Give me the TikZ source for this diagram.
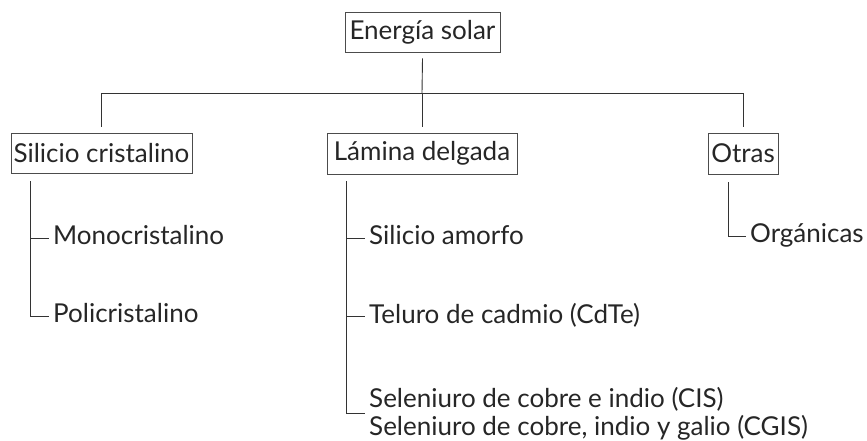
\documentclass[tikz,border=0pt]{standalone}
\usepackage{fontspec}
\setmainfont{Lato}
\begin{document}
\begin{tikzpicture}[x=1pt,y=-1pt,
  conn/.style={draw=black!80,line width=0.9pt},
  catbox/.style={draw=black!70,line width=0.8pt,inner sep=0pt,font=\fontsize{26}{30}\selectfont,text=black!85},
  leaf/.style={inner sep=0pt,anchor=base west,font=\fontsize{26}{30}\selectfont,text=black!85}]
\useasboundingbox (0,0) rectangle (867,441);
% boxes
\node[catbox,minimum width=155pt,minimum height=40pt] (root) at (422.5,32) {Energía solar};
\node[catbox,minimum width=181pt,minimum height=40pt] (sil) at (101.5,153) {Silicio cristalino};
\node[catbox,minimum width=190pt,minimum height=41pt] (lam) at (422,153.5) {Lámina delgada};
\node[catbox,minimum width=70pt,minimum height=41pt] (oth) at (743,153.5) {Otras};
% leaves
\node[leaf] (mono) at (53,244) {Monocristalino};
\node[leaf] (poli) at (53,322) {Policristalino};
\node[leaf] (amor) at (369,244) {Silicio amorfo};
\node[leaf] (telu) at (369,323) {Teluro de cadmio (CdTe)};
\node[leaf] (sel1) at (369,407) {Seleniuro de cobre e indio (CIS)};
\node[leaf] (sel2) at (369,435) {Seleniuro de cobre, indio y galio (CGIS)};
\node[leaf] (org) at (750,242) {Orgánicas};
% hub
\coordinate (hub) at (422,93);
\coordinate (s0) at (30,181);
\coordinate (l0) at (346,181);
\coordinate (o0) at (728,182);
% connectors
\draw[conn] ([yshift=-6pt]root.south) -- (hub);
\draw[conn] ([yshift=6pt]sil.north) -- (sil.north |- hub) -- (oth.north |- hub) -- ([yshift=6pt]oth.north);
\draw[conn] (hub) -- ([yshift=6pt]lam.north);
\draw[conn] (s0) |- ([xshift=-4pt,yshift=6pt]poli.base west);
\draw[conn] (s0 |- mono.base west) ++(0,-6) -- ([xshift=-4pt,yshift=6pt]mono.base west);
\draw[conn] (l0) |- ([xshift=-4pt,yshift=-6pt]sel1.base west);
\draw[conn] (l0 |- amor.base west) ++(0,-6) -- ([xshift=-4pt,yshift=6pt]amor.base west);
\draw[conn] (l0 |- telu.base west) ++(0,-7) -- ([xshift=-4pt,yshift=7pt]telu.base west);
\draw[conn] (o0) |- ([xshift=-4pt,yshift=6pt]org.base west);
\end{tikzpicture}
\end{document}
